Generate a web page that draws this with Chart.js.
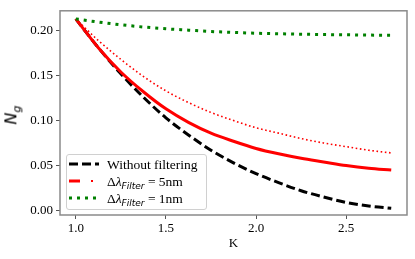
<!DOCTYPE html>
<html>
<head>
<meta charset="utf-8">
<script src="https://cdn.jsdelivr.net/npm/chart.js@4.4.1/dist/chart.umd.min.js"></script>
<style>
  body { margin: 0; background: #fff; }
  #wrap { position: relative; width: 415px; height: 259px; }
  #ylab { position: absolute; left: 3px; top: 104px; transform: rotate(-90deg); font-family: "DejaVu Sans", sans-serif; font-style: italic; font-size: 16px; color: #000; }
  #ylab sub { font-size: 11px; }
  #legend { position: absolute; left: 66px; top: 154px; width: 139px; height: 54px; border: 1px solid #d0d0d0; border-radius: 3px; background: rgba(255,255,255,0.85); font-family: "Liberation Serif", serif; font-size: 13.5px; color: #000; }
  .row { position: absolute; left: 0; height: 17px; line-height: 17px; white-space: nowrap; }
  .row svg { position: absolute; left: 1px; top: 3px; }
  .txt { position: absolute; left: 40px; }
  .sub { font-family: "DejaVu Sans", sans-serif; font-style: italic; font-size: 9px; position: relative; top: 3px; }
  .it { font-style: italic; }
</style>
</head>
<body>
<div id="wrap">
  <canvas id="myChart" width="415" height="259"></canvas>
  <div id="ylab">N<sub>g</sub></div>
  <div id="legend">
    <div class="row" style="top:1px">
      <svg width="32" height="10"><line x1="1" y1="5" x2="31" y2="5" stroke="#000" stroke-width="3" stroke-dasharray="9,4"/></svg>
      <span class="txt">Without filtering</span>
    </div>
    <div class="row" style="top:18px">
      <svg width="32" height="10"><line x1="1" y1="5" x2="12" y2="5" stroke="#f00" stroke-width="3"/><line x1="23" y1="5" x2="25" y2="5" stroke="#f00" stroke-width="2"/></svg>
      <span class="txt">&Delta;<span class="it">&lambda;</span><span class="sub">Filter</span> = 5nm</span>
    </div>
    <div class="row" style="top:35px">
      <svg width="32" height="10"><line x1="1" y1="5" x2="31" y2="5" stroke="#008000" stroke-width="3" stroke-dasharray="3,5"/></svg>
      <span class="txt">&Delta;<span class="it">&lambda;</span><span class="sub">Filter</span> = 1nm</span>
    </div>
  </div>
</div>
<script>
const kValues = [1.0, 1.125, 1.25, 1.375, 1.5, 1.625, 1.75, 1.875, 2.0, 2.125, 2.25, 2.375, 2.5, 2.625, 2.75];
const noFilter = [0.213, 0.181, 0.152, 0.126, 0.103, 0.084, 0.067, 0.053, 0.041, 0.031, 0.022, 0.015, 0.009, 0.005, 0.0025];
const filter5 = [0.213, 0.181, 0.154, 0.132, 0.113, 0.098, 0.086, 0.077, 0.069, 0.063, 0.058, 0.054, 0.050, 0.047, 0.045];
const filter5b = [0.213, 0.189, 0.168, 0.149, 0.133, 0.120, 0.109, 0.100, 0.092, 0.086, 0.080, 0.075, 0.071, 0.067, 0.064];
const filter1 = [0.213, 0.2095, 0.2065, 0.204, 0.202, 0.2005, 0.199, 0.198, 0.197, 0.1965, 0.196, 0.1956, 0.1953, 0.195, 0.1948];
const xTicks = [1.0, 1.5, 2.0, 2.5];
const yTicks = [0.00, 0.05, 0.10, 0.15, 0.20];

function pts(ys) {
  return kValues.map((k, i) => ({ x: k, y: ys[i] }));
}

const frame = {
  id: "frame",
  afterDraw(chart) {
    const a = chart.chartArea;
    const ctx = chart.ctx;
    ctx.save();
    ctx.strokeStyle = "#8a8a8a";
    ctx.lineWidth = 1.5;
    ctx.strokeRect(a.left, a.top, a.right - a.left, a.bottom - a.top);
    ctx.restore();
  }
};

const tickFont = { family: "Liberation Serif", size: 13 };

new Chart("myChart", {
  type: "scatter",
  data: {
    datasets: [
      { data: pts(noFilter), borderColor: "#000", borderWidth: 3, borderDash: [9, 4], order: 4 },
      { data: pts(filter5), borderColor: "#f00", borderWidth: 3, order: 3 },
      { data: pts(filter5b), borderColor: "#f00", borderWidth: 1.6, borderDash: [1.6, 2.6], order: 2 },
      { data: pts(filter1), borderColor: "#008000", borderWidth: 3, borderDash: [3, 5], order: 1 }
    ]
  },
  options: {
    responsive: false,
    animation: false,
    devicePixelRatio: 1,
    showLine: true,
    elements: { point: { radius: 0 }, line: { cubicInterpolationMode: "monotone", fill: false } },
    layout: { padding: { top: 7, right: 8, left: 0, bottom: 8 } },
    plugins: { legend: { display: false }, tooltip: { enabled: false } },
    scales: {
      x: {
        type: "linear",
        min: 0.9125,
        max: 2.8375,
        afterBuildTicks: (s) => { s.ticks = xTicks.map(v => ({ value: v })); },
        afterFit: (s) => { s.height = 36; },
        grid: { drawOnChartArea: false, drawTicks: true, tickLength: 4, color: "#555" },
        border: { display: false },
        ticks: { color: "#000", font: tickFont, padding: 2, maxRotation: 0, callback: (v) => v.toFixed(1) },
        title: { display: true, text: "K", color: "#000", font: tickFont, padding: { top: 1, bottom: 0 } }
      },
      y: {
        min: -0.005,
        max: 0.222,
        afterBuildTicks: (s) => { s.ticks = yTicks.map(v => ({ value: v })); },
        afterFit: (s) => { s.width = 60; },
        grid: { drawOnChartArea: false, drawTicks: true, tickLength: 4, color: "#555" },
        border: { display: false },
        ticks: { color: "#000", font: tickFont, padding: 3, callback: (v) => v.toFixed(2) }
      }
    }
  },
  plugins: [frame]
});
</script>
</body>
</html>
